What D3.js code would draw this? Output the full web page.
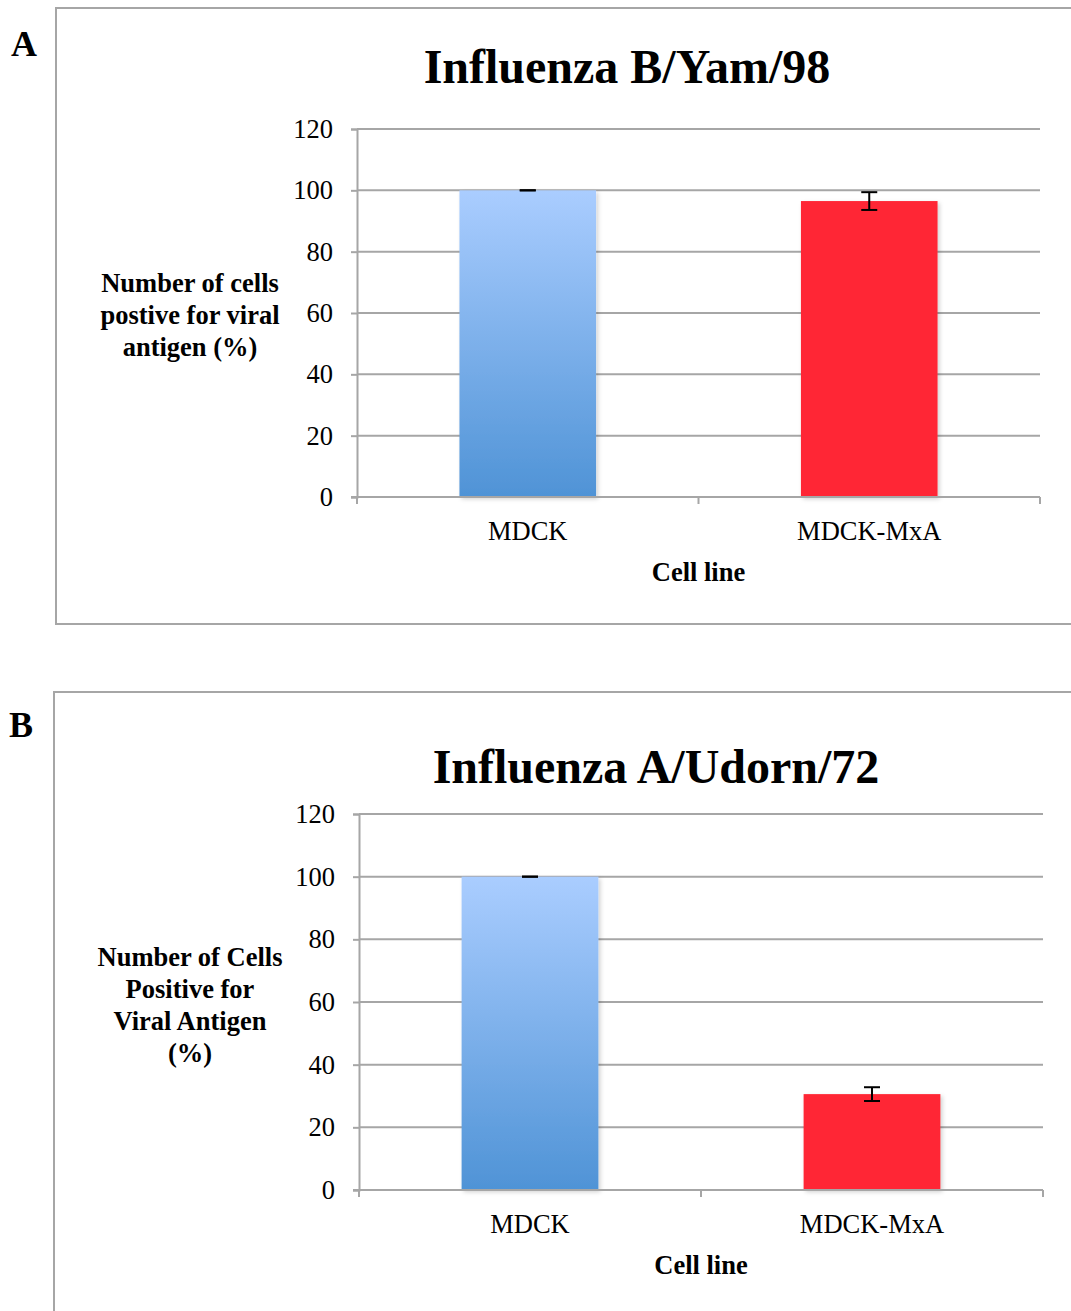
<!DOCTYPE html>
<html>
<head>
<meta charset="utf-8">
<script src="https://cdn.jsdelivr.net/npm/d3@7"></script>
<style>
  html, body { margin: 0; padding: 0; background: #fff; }
  svg { display: block; }
  text { font-family: "Liberation Serif", "Times New Roman", serif; fill: #000; }
</style>
</head>
<body>
<svg id="fig" width="1071" height="1311"></svg>
<script>
// Cell lines on the x axis
const cellLines = ["MDCK", "MDCK-MxA"];
// Percentage of cells positive for viral antigen, with error (SD)
const yamValues = [100, 96.5];
const yamErrors = [0, 2.9];
const udornValues = [100, 30.6];
const udornErrors = [0, 2.2];
// Axis ticks
const yTicks = [0, 20, 40, 60, 80, 100, 120];
// Text
const panelLetters = ["A", "B"];
const panelTitles = ["Influenza B/Yam/98", "Influenza A/Udorn/72"];
const yTitlesA = ["Number of cells", "postive for viral", "antigen (%)"];
const yTitlesB = ["Number of Cells", "Positive for", "Viral Antigen", "(%)"];
const xTitle = "Cell line";

const svg = d3.select("#fig");
const defs = svg.append("defs");
const SERIF = "'Liberation Serif', 'Times New Roman', serif";
const FS = 26.5;

// Vertical blue gradient for the MDCK bar
const grad = defs.append("linearGradient")
  .attr("id", "blueGrad").attr("x1", 0).attr("y1", 0).attr("x2", 0).attr("y2", 1);
grad.append("stop").attr("offset", "0%").attr("stop-color", "#aacdff");
grad.append("stop").attr("offset", "100%").attr("stop-color", "#4f93d6");

// Soft shadow under bars
const shadow = defs.append("filter").attr("id", "barShadow")
  .attr("x", "-10%").attr("y", "-10%").attr("width", "125%").attr("height", "125%");
shadow.append("feDropShadow").attr("dx", 2).attr("dy", 2)
  .attr("stdDeviation", 2).attr("flood-color", "#000").attr("flood-opacity", 0.18);

const barFills = ["url(#blueGrad)", "#ff2634"];

function drawPanel(cfg) {
  const g = svg.append("g").style("font-family", SERIF);

  // Outer chart frame
  g.append("rect")
    .attr("x", cfg.frame[0]).attr("y", cfg.frame[1])
    .attr("width", cfg.frame[2]).attr("height", cfg.frame[3])
    .attr("fill", "none").attr("stroke", "#a6a6a6").attr("stroke-width", 2);

  // Panel letter
  g.append("text").attr("x", cfg.letterPos[0]).attr("y", cfg.letterPos[1])
    .style("font-size", "36px").style("font-weight", "bold").text(cfg.letter);

  // Title
  g.append("text").attr("x", cfg.titlePos[0]).attr("y", cfg.titlePos[1])
    .attr("text-anchor", "middle").style("font-size", "48px").style("font-weight", "bold")
    .text(cfg.title);

  const x = d3.scaleBand().domain(cellLines)
    .range([cfg.left, cfg.right]).paddingInner(0.6).paddingOuter(0.3);
  const y = d3.scaleLinear().domain([0, 120]).range([cfg.bottom, cfg.top]);

  // Horizontal gridlines
  g.append("g").selectAll("line").data(yTicks.filter(t => t > 0)).join("line")
    .attr("x1", cfg.left).attr("x2", cfg.right)
    .attr("y1", d => y(d)).attr("y2", d => y(d))
    .attr("stroke", "#a6a6a6").attr("stroke-width", 2);

  // Y axis
  const yAxis = g.append("g").attr("transform", `translate(${cfg.left},0)`)
    .call(d3.axisLeft(y).tickValues(yTicks).tickSize(6).tickPadding(18));
  yAxis.attr("font-family", null).attr("font-size", null);
  yAxis.select(".domain").attr("stroke", "#a6a6a6").attr("stroke-width", 2);
  yAxis.selectAll(".tick line").attr("stroke", "#a6a6a6").attr("stroke-width", 2);
  yAxis.selectAll(".tick text").style("font-family", SERIF)
    .style("font-size", FS + "px").attr("fill", "#000");

  // Bars
  const vals = cfg.values;
  g.append("g").selectAll("rect").data(cellLines).join("rect")
    .attr("x", d => x(d)).attr("width", x.bandwidth())
    .attr("y", (d, i) => y(vals[i]))
    .attr("height", (d, i) => y(0) - y(vals[i]))
    .attr("fill", (d, i) => barFills[i])
    .attr("filter", "url(#barShadow)");

  // X axis (category boundaries as ticks)
  const xb = d3.scalePoint().domain([0, 1, 2]).range([cfg.left, cfg.right]);
  g.append("line").attr("x1", cfg.left - 6).attr("x2", cfg.right)
    .attr("y1", y(0)).attr("y2", y(0)).attr("stroke", "#a6a6a6").attr("stroke-width", 2);
  g.append("g").selectAll("line").data(xb.domain()).join("line")
    .attr("x1", d => xb(d)).attr("x2", d => xb(d))
    .attr("y1", y(0)).attr("y2", y(0) + 7)
    .attr("stroke", "#a6a6a6").attr("stroke-width", 2);

  // Category labels
  g.append("g").selectAll("text").data(cellLines).join("text")
    .attr("x", d => x(d) + x.bandwidth() / 2).attr("y", y(0) + 43)
    .attr("text-anchor", "middle").style("font-size", FS + "px").text(d => d);

  // Error bars
  const errs = cfg.errors;
  const eb = g.append("g").attr("stroke", "#000").attr("stroke-width", 2);
  cellLines.forEach((c, i) => {
    const cx = x(c) + x.bandwidth() / 2;
    const y1 = y(vals[i] + errs[i]), y2 = y(vals[i] - errs[i]);
    eb.append("line").attr("x1", cx).attr("x2", cx).attr("y1", y1).attr("y2", y2);
    eb.append("line").attr("x1", cx - 8).attr("x2", cx + 8).attr("y1", y1).attr("y2", y1);
    eb.append("line").attr("x1", cx - 8).attr("x2", cx + 8).attr("y1", y2).attr("y2", y2);
  });

  // Axis titles
  g.append("text").attr("x", (cfg.left + cfg.right) / 2).attr("y", y(0) + 84)
    .attr("text-anchor", "middle").style("font-size", FS + "px").style("font-weight", "bold")
    .text(xTitle);

  const yt = g.append("text").attr("text-anchor", "middle")
    .style("font-size", FS + "px").style("font-weight", "bold");
  cfg.yTitle.forEach((line, i) => {
    yt.append("tspan").attr("x", 190).attr("y", cfg.yTitleTop + i * 32).text(line);
  });
}

drawPanel({
  frame: [56, 8, 1030, 616],
  letter: panelLetters[0], letterPos: [11, 56],
  title: panelTitles[0], titlePos: [627, 83],
  left: 357, right: 1040, top: 129, bottom: 497,
  values: yamValues, errors: yamErrors,
  yTitle: yTitlesA, yTitleTop: 292
});

drawPanel({
  frame: [54, 692, 1030, 640],
  letter: panelLetters[1], letterPos: [9, 737],
  title: panelTitles[1], titlePos: [656, 783],
  left: 359, right: 1043, top: 814, bottom: 1190,
  values: udornValues, errors: udornErrors,
  yTitle: yTitlesB, yTitleTop: 966
});
</script>
</body>
</html>
